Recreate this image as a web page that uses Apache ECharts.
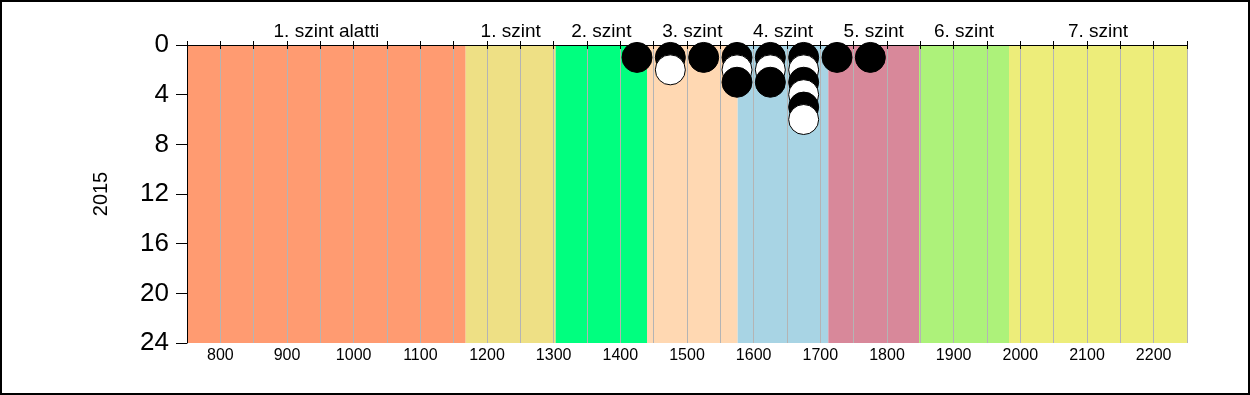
<!DOCTYPE html>
<html><head><meta charset="utf-8">
<script src="https://cdn.jsdelivr.net/npm/echarts@6/dist/echarts.min.js"></script>
<style>
html,body{margin:0;padding:0;background:#fff;}
#wrap{position:relative;width:1250px;height:395px;}
#chart{position:absolute;left:0;top:0;width:1250px;height:395px;}
#frame{position:absolute;left:0;top:0;width:1250px;height:395px;box-sizing:border-box;border:2px solid #000;pointer-events:none;}
</style></head>
<body><div id="wrap"><div id="chart"></div><div id="frame"></div></div>
<script>
// Level bands (x ranges), names and colours
const bandNames = ['1. szint alatti','1. szint','2. szint','3. szint','4. szint','5. szint','6. szint','7. szint'];
const bandStart = [750, 1168, 1303, 1440, 1576, 1712, 1848, 1983];
const bandEnd   = [1168, 1303, 1440, 1576, 1712, 1848, 1983, 2250];
const bandColors = ['#FF9B71','#EEE085','#00FF7F','#FFD8B2','#A8D4E4','#D8889A','#ADF27A','#EDED7A'];
// Dots: x position, stack level (y), fill (alternating black/white)
const pointX = [1425, 1475, 1475, 1525, 1575, 1575, 1575, 1625, 1625, 1625, 1675, 1675, 1675, 1675, 1675, 1675, 1725, 1775];
const pointY = [1, 1, 2, 1, 1, 2, 3, 1, 2, 3, 1, 2, 3, 4, 5, 6, 1, 1];
const pointFill = ['#000','#000','#fff','#000','#000','#fff','#000','#000','#fff','#000','#000','#fff','#000','#fff','#000','#fff','#000','#000'];
const yTicks = [0, 4, 8, 12, 16, 20, 24];
const yName = '2015';

const chart = echarts.init(document.getElementById('chart'));
const pts = pointX.map((x, i) => ({value: [x, pointY[i]], itemStyle: {color: pointFill[i]}}));
const areas = bandNames.map((n, i) => [
  {name: n, xAxis: bandStart[i], itemStyle: {color: bandColors[i], opacity: 1}},
  {xAxis: bandEnd[i]}
]);
chart.setOption({
  animation: false,
  textStyle: {fontFamily: 'Liberation Sans, Arial, sans-serif'},
  grid: {left: 187, right: 63, top: 45, bottom: 52},
  xAxis: [{
    type: 'value', min: 750, max: 2250, interval: 50, position: 'bottom', z: 2,
    axisLine: {show: true, lineStyle: {color: '#000', width: 1}},
    axisTick: {show: true, length: 4, lineStyle: {color: '#000'}},
    axisLabel: {color: '#000', fontSize: 16, margin: 5,
      formatter: v => (v % 100 === 0 ? String(v) : '')},
    splitLine: {show: true, lineStyle: {color: '#B4B4B4', width: 1}}
  }, {
    type: 'value', min: 750, max: 2250, interval: 50, position: 'top', z: 2,
    axisLine: {show: true, lineStyle: {color: '#000', width: 1}},
    axisTick: {show: true, length: 4, lineStyle: {color: '#000'}},
    axisLabel: {show: false},
    splitLine: {show: false}
  }],
  yAxis: {
    type: 'value', inverse: true, min: 0, max: 24, interval: 4, z: 2,
    name: yName, nameLocation: 'middle', nameRotate: 90, nameGap: 76,
    nameTextStyle: {color: '#000', fontSize: 20},
    axisLine: {show: true, lineStyle: {color: '#000'}},
    axisTick: {show: true, length: 11, lineStyle: {color: '#000'}},
    axisLabel: {color: '#000', fontSize: 26, margin: 18,
      formatter: v => (yTicks.indexOf(v) >= 0 ? String(v) : '')},
    splitLine: {show: false}
  },
  series: [{
    type: 'scatter', data: [], z: 1, silent: true,
    markArea: {
      silent: true,
      label: {show: true, position: 'top', distance: 4, color: '#000', fontSize: 19},
      data: areas
    }
  }, {
    type: 'scatter', z: 3, data: pts, symbol: 'circle', symbolSize: 30,
    itemStyle: {borderColor: '#000', borderWidth: 1, opacity: 1}
  }]
});
</script></body></html>
